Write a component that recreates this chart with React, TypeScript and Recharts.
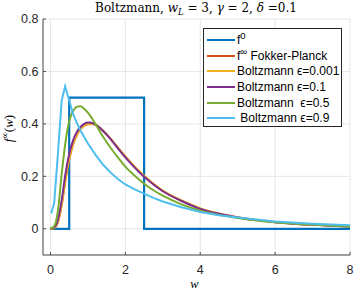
import React from "react";
import { LineChart, Line, XAxis, YAxis, CartesianGrid, Legend } from "recharts";

// sampled w-grid shared by the smooth curves
const wGrid = [0, 0.1, 0.2, 0.3, 0.4, 0.5, 0.6, 0.7, 0.8, 0.9, 1.0, 1.1, 1.2, 1.4, 1.6, 1.8, 2.0, 2.25, 2.5, 2.75, 3.0, 3.5, 4.0, 4.5, 5.0, 5.5, 6.0, 7.0, 8.0];

const fokkerPlanck = [0, 0.003, 0.026, 0.091, 0.186, 0.264, 0.32, 0.356, 0.38, 0.393, 0.399, 0.4, 0.396, 0.374, 0.344, 0.309, 0.275, 0.236, 0.201, 0.171, 0.145, 0.107, 0.077, 0.057, 0.043, 0.033, 0.025, 0.015, 0.009];
const boltzEps0001 = [0, 0.003, 0.027, 0.093, 0.188, 0.266, 0.321, 0.357, 0.381, 0.394, 0.4, 0.401, 0.397, 0.375, 0.345, 0.31, 0.276, 0.237, 0.202, 0.172, 0.146, 0.108, 0.078, 0.058, 0.044, 0.034, 0.026, 0.016, 0.01];
const boltzEps01 = [0, 0.005, 0.035, 0.11, 0.21, 0.285, 0.335, 0.368, 0.388, 0.4, 0.405, 0.404, 0.398, 0.374, 0.343, 0.307, 0.272, 0.233, 0.198, 0.169, 0.143, 0.106, 0.076, 0.057, 0.043, 0.033, 0.025, 0.015, 0.009];
const boltzEps05 = [0, 0.01, 0.07, 0.21, 0.33, 0.41, 0.447, 0.465, 0.467, 0.458, 0.443, 0.423, 0.4, 0.352, 0.31, 0.272, 0.237, 0.202, 0.172, 0.147, 0.126, 0.093, 0.069, 0.053, 0.041, 0.032, 0.025, 0.015, 0.009];

// eps = 0.9 is on its own (coarser) grid
const wEps09 = [0.02, 0.1, 0.2, 0.3, 0.39, 0.5, 0.6, 0.7, 0.8, 0.9, 1.0, 1.2, 1.4, 1.6, 1.8, 2.0, 2.25, 2.5, 2.75, 3.0, 3.5, 4.0, 4.5, 5.0, 5.5, 6.0, 7.0, 8.0];
const boltzEps09 = [0.058, 0.1, 0.29, 0.49, 0.543, 0.49, 0.44, 0.405, 0.375, 0.35, 0.325, 0.283, 0.245, 0.215, 0.19, 0.169, 0.15, 0.134, 0.118, 0.104, 0.082, 0.064, 0.052, 0.043, 0.035, 0.028, 0.019, 0.013];

// initial datum f^0: uniform on [0.5, 2.5]
const wInit = [0, 0.5, 0.5, 2.5, 2.5, 8];
const fInit = [0, 0, 0.5, 0.5, 0, 0];

const xTicks = [0, 2, 4, 6, 8];
const yTicks = [0, 0.2, 0.4, 0.6, 0.8];

const toPoints = (w: number[], f: number[]) => w.map((x, i) => ({ w: x, f: f[i] }));

const series = [
  { key: "f0", name: "f^0", color: "#0072BD", width: 2.2, type: "linear", data: toPoints(wInit, fInit) },
  { key: "fp", name: "f^∞ Fokker-Planck", color: "#D95319", width: 2, type: "monotone", data: toPoints(wGrid, fokkerPlanck) },
  { key: "b0001", name: "Boltzmann ϵ=0.001", color: "#EDB120", width: 2, type: "monotone", data: toPoints(wGrid, boltzEps0001) },
  { key: "b01", name: "Boltzmann ϵ=0.1", color: "#7E2F8E", width: 2, type: "monotone", data: toPoints(wGrid, boltzEps01) },
  { key: "b05", name: "Boltzmann  ϵ=0.5", color: "#77AC30", width: 2, type: "monotone", data: toPoints(wGrid, boltzEps05) },
  { key: "b09", name: " Boltzmann ϵ=0.9", color: "#4DBEEE", width: 2, type: "linear", data: toPoints(wEps09, boltzEps09) },
];
const seriesOrder = series.map((s) => s.name);

const axisColor = "#4d4d4d";
const tickStyle = { fontSize: 12.5, fill: "#262626", fontFamily: "'Liberation Sans', Arial, sans-serif" };

const LegendLabel = ({ text }: { text: string }) => {
  if (text.startsWith("f^")) {
    const sup = text.charAt(2);
    const rest = text.slice(3);
    return (
      <span>
        f<sup style={{ fontSize: 9.5, verticalAlign: "5px", lineHeight: 0 }}>{sup}</sup>
        {rest}
      </span>
    );
  }
  return <span>{text}</span>;
};

const BoxLegend = ({ payload }: any) => {
  // keep plotting order (legend would otherwise sort by name)
  const items = [...(payload || [])].sort(
    (a: any, b: any) => seriesOrder.indexOf(a.value) - seriesOrder.indexOf(b.value)
  );
  return (
    <div
      style={{
        width: 139,
        height: 99,
        border: "1px solid #262626",
        background: "#fff",
        paddingTop: 3,
        boxSizing: "border-box",
        fontFamily: "'Liberation Sans', Arial, sans-serif",
        fontSize: 12,
        color: "#000",
      }}
    >
      {items.map((entry: any, i: number) => (
        <div key={`leg-${i}`} style={{ display: "flex", alignItems: "center", height: 15.7, whiteSpace: "pre" }}>
          <div style={{ width: 28, height: 2, marginLeft: 3, marginRight: 2, background: entry.color }} />
          <LegendLabel text={entry.value} />
        </div>
      ))}
    </div>
  );
};

export default function App() {
  return (
    <div style={{ position: "absolute", left: 0, top: 0, width: 354, height: 291, background: "#fff" }}>
      <svg width={354} height={18} style={{ position: "absolute", left: 0, top: 0 }}>
        <text x={196} y={12} textAnchor="middle" fontFamily="'DejaVu Serif', serif" fontSize={12} fill="#000">
          Boltzmann,{" "}
          <tspan fontStyle="italic">w</tspan>
          <tspan fontStyle="italic" fontSize={8.5} dy={3}>L</tspan>
          <tspan dy={-3}> = 3, </tspan>
          <tspan fontStyle="italic">γ</tspan> = 2, <tspan fontStyle="italic">δ</tspan> =0.1
        </text>
      </svg>
      <LineChart width={354} height={291} margin={{ top: 19, right: 4, bottom: 0, left: 0 }}>
        <CartesianGrid stroke="#e6e6e6" strokeWidth={1} />
        <XAxis
          type="number"
          dataKey="w"
          domain={[-0.2, 8]}
          ticks={xTicks}
          height={36}
          tick={tickStyle}
          tickSize={-3}
          tickMargin={13}
          axisLine={{ stroke: axisColor }}
          tickLine={{ stroke: axisColor }}
          label={{
            content: () => (
              <text x={194.5} y={288} textAnchor="middle" fontFamily="'Liberation Serif', serif" fontStyle="italic" fontSize={12.5} fill="#000">
                w
              </text>
            ),
          }}
        />
        <YAxis
          type="number"
          domain={[-0.1, 0.8]}
          ticks={yTicks}
          width={43}
          tick={tickStyle}
          tickSize={-3}
          tickMargin={7.5}
          axisLine={{ stroke: axisColor }}
          tickLine={{ stroke: axisColor }}
          label={{
            content: () => (
              <text x={13} y={128.5} transform="rotate(-90, 13, 128.5)" textAnchor="middle" fontFamily="'Liberation Serif', serif" fontSize={13} fill="#000">
                <tspan fontStyle="italic">f</tspan>
                <tspan fontSize={9} dy={-5}>∞</tspan>
                <tspan dy={5}>(</tspan>
                <tspan fontStyle="italic">w</tspan>)
              </text>
            ),
          }}
        />
        <Legend
          layout="vertical"
          align="center"
          verticalAlign="middle"
          content={<BoxLegend />}
          wrapperStyle={{ left: 203, top: 28, width: 139, height: 99 }}
        />
        {series.map((s) => (
          <Line
            key={s.key}
            data={s.data}
            dataKey="f"
            name={s.name}
            type={s.type as any}
            stroke={s.color}
            strokeWidth={s.width}
            dot={false}
            activeDot={false}
            isAnimationActive={false}
          />
        ))}
      </LineChart>
    </div>
  );
}
